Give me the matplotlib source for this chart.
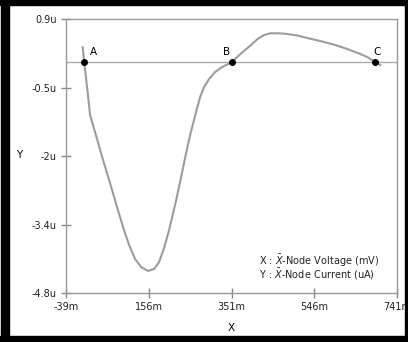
import matplotlib
matplotlib.use('Agg')
import matplotlib.pyplot as plt
from matplotlib.patches import Rectangle

# curve (x in mV, y in uA)
volt = [0.35, 4, 14.0, 17.6, 34.1, 48.2, 64.7, 81.2, 95.3, 109.5, 123.6,
        137.7, 154.2, 168.4, 180.2, 191.9, 203.7, 217.8, 229.6, 241.4, 253.2,
        267.3, 276.7, 286.2, 298.0, 312.1, 328.6, 351, 366.3, 382.8, 399.3,
        413.4, 427.6, 441.7, 460.6, 477.1, 505.3, 532.0, 564.3, 594.9, 623.2,
        649.8, 670.3, 689.2, 701.0]
curr = [0.311, 0.0, -0.785, -1.097, -1.596, -2.033, -2.512, -3.011, -3.427,
        -3.801, -4.093, -4.259, -4.342, -4.301, -4.155, -3.864, -3.489, -2.969,
        -2.491, -1.992, -1.513, -1.035, -0.723, -0.515, -0.348, -0.203, -0.099,
        0.0, 0.130, 0.255, 0.380, 0.494, 0.567, 0.603, 0.603, 0.594, 0.557,
        0.498, 0.432, 0.359, 0.276, 0.186, 0.109, 0.0, -0.057]

pt_names = ['A', 'B', 'C']
pt_x = [4, 351, 689.2]
pt_y = [0, 0, 0]

xticks = [-39, 156, 351, 546, 741]
xlabels = ['-39m', '156m', '351m', '546m', '741m']
yticks = [0.9, -0.525, -1.95, -3.375, -4.8]
ylabels = ['0.9u', '-0.5u', '-2u', '-3.4u', '-4.8u']

fig = plt.figure(figsize=(4.08, 3.42), dpi=100)
ax = fig.add_axes([66/408, 49/342, 331.3/408, 274/342])

ax.axhline(0, color='#aaaaaa', lw=1)
ax.plot(volt, curr, color='#9c9c9c', lw=1.5)
ax.plot(pt_x, pt_y, 'o', color='black', ms=4, zorder=5)
offs = {'A': (4, 4), 'B': (-4, 4), 'C': (1.5, 4)}
for n, x, y in zip(pt_names, pt_x, pt_y):
    ha = 'left' if n == 'A' else 'center'
    ax.annotate(n, (x, y), xytext=offs[n], textcoords='offset points',
                fontsize=7.5, ha=ha, va='bottom')

ax.set_xlim(-39, 741)
ax.set_ylim(-4.8, 0.9)
ax.set_xticks(xticks)
ax.set_xticklabels(xlabels)
ax.set_yticks(yticks)
ax.set_yticklabels(ylabels)
ax.tick_params(direction='inout', length=7, width=1, color='#888888',
               labelsize=7, labelcolor='#222222', pad=3)
for s in ax.spines.values():
    s.set_color('#999999')
    s.set_linewidth(1)

ax.set_xlabel('X', fontsize=7.5, labelpad=8)
fig.text(19.5/408, 1 - 155/342, 'Y', fontsize=7.5, ha='center', va='center')

fig.text(259/408, 1 - 261/342, r'X : $\bar{X}$-Node Voltage (mV)', fontsize=7,
         ha='left', va='center', color='#222222')
fig.text(259/408, 1 - 274/342, r'Y : $\bar{X}$-Node Current (uA)', fontsize=7,
         ha='left', va='center', color='#222222')

# black frame
for x0, y0, w, h in [(1, 0, 8, 342), (0, 337, 408, 5), (405, 0, 3, 342), (0, 0, 408, 6)]:
    fig.add_artist(Rectangle((x0/408, y0/342), w/408, h/342, transform=fig.transFigure,
                             color='black', zorder=10))

fig.savefig('out.png', dpi=100)
